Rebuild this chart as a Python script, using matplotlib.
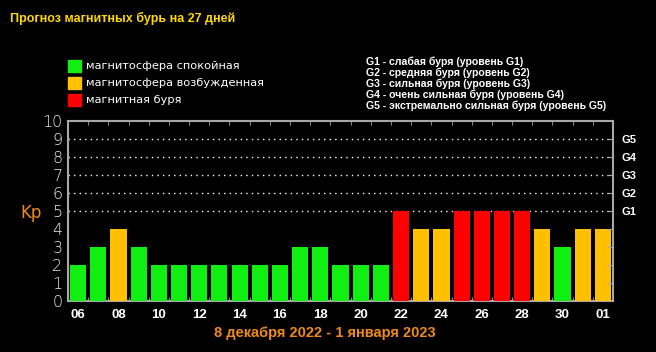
import matplotlib
matplotlib.use("Agg")
import matplotlib.pyplot as plt
import numpy as np

days = ["06", "07", "08", "09", "10", "11", "12", "13", "14", "15", "16", "17", "18", "19",
        "20", "21", "22", "23", "24", "25", "26", "27", "28", "29", "30", "31", "01"]
kp = [2, 3, 4, 3, 2, 2, 2, 2, 2, 2, 2, 3, 3, 2, 2, 2, 5, 4, 4, 5, 5, 5, 5, 4, 3, 4, 4]
status = ["g", "g", "o", "g", "g", "g", "g", "g", "g", "g", "g", "g", "g", "g",
          "g", "g", "r", "o", "o", "r", "r", "r", "r", "o", "g", "o", "o"]
g_levels = [5, 6, 7, 8, 9]
g_names = ["G1", "G2", "G3", "G4", "G5"]
legend_items = ["магнитосфера спокойная", "магнитосфера возбужденная", "магнитная буря"]
g_text = ["G1 - слабая буря (уровень G1)",
          "G2 - средняя буря (уровень G2)",
          "G3 - сильная буря (уровень G3)",
          "G4 - очень сильная буря (уровень G4)",
          "G5 - экстремально сильная буря (уровень G5)"]

colors = {"g": "#11EE11", "o": "#FFC000", "r": "#FF0000"}
frame_c = "#A8A8A8"

fig = plt.figure(figsize=(6.56, 3.52), dpi=100)
fig.patch.set_facecolor("black")
ax = fig.add_axes([68/656, 1-301/352, 545/656, 180/352])
ax.set_facecolor("black")

x = np.arange(len(days))
ax.bar(x, kp, width=0.8, color=[colors[s] for s in status], zorder=3)
for lv in g_levels:
    ax.axhline(lv, color="white", linestyle=(0, (1, 3)), linewidth=1, zorder=1)

ax.set_xlim(-0.5, len(days) - 0.5)
ax.set_ylim(0, 10)
for sp in ax.spines.values():
    sp.set_color(frame_c)
    sp.set_linewidth(1.5)

ax.set_xticks(x[::2])
ax.set_xticklabels(days[::2], color="white", fontsize=9.5, fontweight="bold",
                   family="Liberation Sans")
ax.set_xticks(x[:-1] + 0.5, minor=True)
ax.tick_params(axis="x", which="major", length=0, pad=6)
ax.tick_params(axis="x", which="minor", direction="in", length=3, color=frame_c,
               top=True, bottom=True)

ax.set_yticks(range(11))
ax.set_yticklabels([str(i) for i in range(11)], color="#E8E8E8", fontsize=11.5,
                   family="DejaVu Sans", fontweight="light")
ax.tick_params(axis="y", which="major", length=0, pad=4)
ax2 = ax.twinx()
ax2.set_ylim(0, 10)
ax2.set_yticks(range(1, 10))
ax2.set_yticklabels(["", "", "", ""] + g_names, color="white", fontsize=8,
                    fontweight="bold", family="Liberation Sans")
ax2.tick_params(axis="y", direction="in", length=4, color=frame_c, pad=6)
for sp in ax2.spines.values():
    sp.set_visible(False)

fig.text(20/656, 1-213/352, "Kp", color="#F08A1A", fontsize=12, va="center")

fig.text(10/656, 1-18/352, "Прогноз магнитных бурь на 27 дней", color="#FFD800",
         fontsize=9, fontweight="bold", family="Liberation Sans", va="center")

for i, (lab, c) in enumerate(zip(legend_items, ["g", "o", "r"])):
    yc = 66 + i * 17
    fig.patches.append(plt.Rectangle((68/656, 1-(yc+6)/352), 13/656, 12/352,
                                     color=colors[c], transform=fig.transFigure))
    fig.text(86/656, 1-yc/352, lab, color="white", fontsize=8.2, va="center")

for i, t in enumerate(g_text):
    fig.text(366/656, 1-(62 + i*11)/352, t, color="white", fontsize=7.6,
             fontweight="bold", family="Liberation Sans", va="center")

fig.text(325/656, 1-333/352, "8 декабря 2022 - 1 января 2023", color="#F08A1A",
         fontsize=10.5, fontweight="bold", family="Liberation Sans",
         ha="center", va="center")

fig.savefig("out.png", dpi=100, facecolor="black")
